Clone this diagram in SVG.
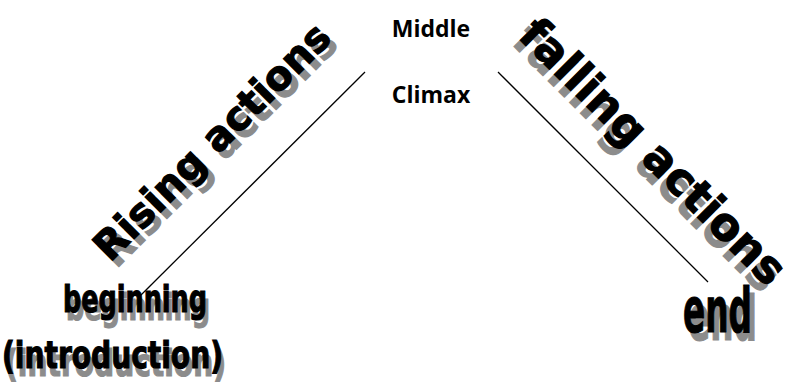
<svg xmlns="http://www.w3.org/2000/svg" width="785" height="385" viewBox="0 0 785 385">
<style>
.lbl{font-family:"Open Sans","Liberation Sans",sans-serif;font-weight:bold;font-size:23px;fill:#000;text-anchor:middle}
.wa{font-family:"DejaVu Sans","Liberation Sans",sans-serif;font-weight:bold}
.sh{fill:#8c8c8c;stroke:#8c8c8c;stroke-width:1.2}
.fg{fill:#000;stroke:#000;stroke-width:1.2}
.ln{stroke:#000;stroke-width:1.3;fill:none}
</style>
<rect width="785" height="385" fill="#fff"/>
<g id="connectors">
<line class="ln" x1="365" y1="72" x2="140" y2="296"/>
<line class="ln" x1="498" y1="72" x2="708" y2="282"/>
</g>
<g id="middle"><text class="lbl" x="431" y="37">Middle</text></g>
<g id="climax"><text class="lbl" x="431" y="103">Climax</text></g>
<g id="rising" transform="translate(110,263) rotate(-45)">
<text class="wa sh" x="0" y="9" font-size="40" textLength="316" lengthAdjust="spacingAndGlyphs">Rising actions</text>
<text class="wa fg" x="0" y="0" font-size="40" textLength="316" lengthAdjust="spacingAndGlyphs">Rising actions</text>
</g>
<g id="falling" transform="translate(517,37) rotate(45)">
<text class="wa sh" x="0" y="9" font-size="45" textLength="355" lengthAdjust="spacingAndGlyphs">falling actions</text>
<text class="wa fg" x="0" y="0" font-size="45" textLength="355" lengthAdjust="spacingAndGlyphs">falling actions</text>
</g>
<g id="beginning">
<text class="wa sh" x="66" y="320" font-size="38" textLength="144" lengthAdjust="spacingAndGlyphs">beginning</text>
<text class="wa fg" x="63" y="312" font-size="38" textLength="144" lengthAdjust="spacingAndGlyphs">beginning</text>
<text class="wa sh" x="5" y="376" font-size="38" textLength="221" lengthAdjust="spacingAndGlyphs">(introduction)</text>
<text class="wa fg" x="2" y="368" font-size="38" textLength="221" lengthAdjust="spacingAndGlyphs">(introduction)</text>
</g>
<g id="end">
<text class="wa sh" x="688" y="340" font-size="63" textLength="69" lengthAdjust="spacingAndGlyphs" stroke-width="1.6">end</text>
<text class="wa fg" x="683" y="332" font-size="63" textLength="69" lengthAdjust="spacingAndGlyphs" stroke-width="1.6">end</text>
</g>
</svg>
